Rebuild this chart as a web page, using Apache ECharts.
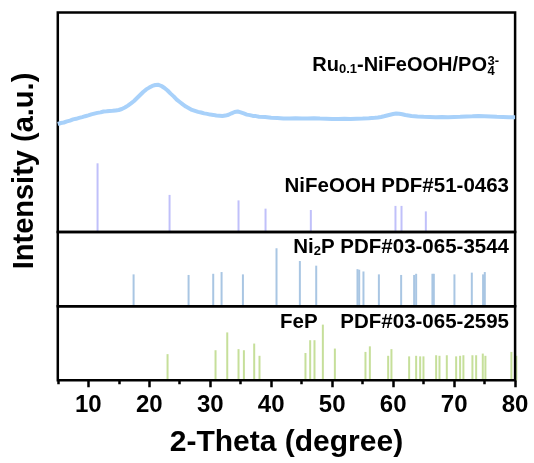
<!DOCTYPE html>
<html><head><meta charset="utf-8">
<script src="https://cdn.jsdelivr.net/npm/echarts@6/dist/echarts.min.js"></script>
<style>html,body{margin:0;padding:0;background:#fff}#c{width:534px;height:463px}</style>
</head><body><div id="c"></div>
<script>
const FONT = '"Liberation Sans", Arial, sans-serif';

// Measured XRD pattern of Ru0.1-NiFeOOH/PO4(3-)
const curveTheta = [5,5.5,6,6.5,7,7.5,8,8.5,9,9.5,10,10.5,11,11.5,12,12.5,13,13.5,14,14.5,15,15.5,16,16.5,17,17.5,18,18.5,19,19.5,20,20.5,21,21.5,22,22.5,23,23.5,24,24.5,25,25.5,26,26.5,27,27.5,28,28.5,29,29.5,30,30.5,31,31.5,32,32.5,33,33.5,34,34.5,35,35.5,36,36.5,37,37.5,38,39,40,41,42,43,44,45,46,47,48,49,50,51,52,53,54,55,56,57,57.5,58,58.5,59,59.5,60,60.5,61,61.5,62,62.5,63,64,65,66,67,68,69,70,71,72,73,74,75,76,77,78,79,80];
const curveIntensity = [108,109,109.5,110.6,111.4,112.6,113.2,114.1,114.9,115.8,116.6,117.6,118.4,119.1,119.6,120.5,120.7,121.1,121.2,121.6,122,123,124.5,126.4,128.6,131,134,137,140,142.6,144.4,146.1,147,147.2,146,144,141.5,138.4,135.6,132.4,130,127.6,125.4,123.8,122.1,121.1,120.1,119.5,118.6,118.1,117.4,117.1,116.5,116.3,116,116.4,117.2,118.7,120,120.5,119.6,118.6,117.4,116.9,116.1,115.9,115.3,114.9,114.3,114.1,113.4,113.6,113.7,113.4,113.5,113.7,113.4,113.3,113,113.1,113.2,112.9,113.3,113.5,113.8,114.2,114.5,115,115.7,116.5,117.3,118,118.5,118.3,117.7,117,116.5,116,115.5,115.2,115,114.8,115,114.7,115,115.2,115.5,115.7,116,115.8,115.5,115.2,115,114.8,114.7];

// NiFeOOH PDF#51-0463 (relative intensity)
const nifePos = [11.52,23.33,34.64,39.07,46.5,60.38,61.37,65.36];
const nifeInt = [100,54,46,34,32,38,38,30];

// Ni2P PDF#03-065-3544
const ni2pPos = [17.43,26.45,30.49,31.86,35.36,40.87,44.7,47.38,54.15,54.43,55.13,57.66,61.31,63.44,63.77,66.44,66.67,70.05,72.9,74.75,75.03];
const ni2pInt = [55,54,56,59,55,100,78,70,64,63,60,55,54,54,56,56,56,55,58,55,59];

// FeP PDF#03-065-2595
const fepPos = [23.0,30.87,32.79,34.64,35.52,37.21,38.08,45.62,46.39,47.1,48.47,50.44,55.46,56.18,59.18,59.72,62.62,63.77,64.43,64.97,67.05,67.6,68.8,70.33,70.98,71.52,73.0,73.61,74.7,75.13,79.39,80.2];
const fepInt = [47,54,86,56,54,66,44,49,72,72,100,57,51,61,44,56,43,44,43,43,45,44,45,43,44,45,45,45,48,44,51,44];

const majorTicks = [10,20,30,40,50,60,70,80];
const minorTicks = [5,15,25,35,45,55,65,75];

const chart = echarts.init(document.getElementById('c'), null, {renderer:'canvas'});
const L = 57.8, R = 18.9;
const gridBase = {left:L, right:R, show:true, borderColor:'#000', borderWidth:2.5, backgroundColor:'transparent', z:3};
const hiddenX = i => ({type:'value', gridIndex:i, min:5, max:80, show:false});
const black = '#000';

chart.setOption({
  animation:false,
  grid:[
    Object.assign({top:12.5, height:219.5}, gridBase),
    Object.assign({top:232, height:74.3}, gridBase),
    Object.assign({top:306.3, height:74}, gridBase)
  ],
  xAxis:[
    hiddenX(0), hiddenX(1),
    {type:'value', gridIndex:2, min:5, max:80, position:'bottom',
     axisLine:{show:false}, splitLine:{show:false},
     axisTick:{show:true, customValues:majorTicks, length:7, lineStyle:{color:black, width:2.5}},
     axisLabel:{customValues:majorTicks, fontSize:24, fontWeight:'bold', color:black, fontFamily:FONT, margin:13, hideOverlap:false},
     name:'2-Theta (degree)', nameLocation:'middle', nameGap:47,
     nameTextStyle:{fontSize:30, fontWeight:'bold', color:black, fontFamily:FONT}},
    {type:'value', gridIndex:2, min:5, max:80, position:'bottom', offset:0,
     axisLine:{show:false}, splitLine:{show:false}, axisLabel:{show:false},
     axisTick:{show:true, customValues:minorTicks, length:4, lineStyle:{color:black, width:2.5}}}
  ],
  yAxis:[
    {type:'value', gridIndex:0, min:0, max:219.5, show:false},
    {type:'value', gridIndex:0, min:0, max:319.5, show:false},
    {type:'value', gridIndex:1, min:0, max:128, show:false},
    {type:'value', gridIndex:2, min:0, max:132.9, show:false}
  ],
  series:[
    {type:'line', xAxisIndex:0, yAxisIndex:0, showSymbol:false, silent:true,
     data:curveTheta.map((t,i)=>[t, curveIntensity[i]]),
     lineStyle:{color:'#a8d1fa', width:4}},
    {type:'bar', xAxisIndex:0, yAxisIndex:1, barWidth:2, silent:true,
     data:nifePos.map((p,i)=>[p, nifeInt[i]]), itemStyle:{color:'#c0c0fa'}},
    {type:'bar', xAxisIndex:1, yAxisIndex:2, barWidth:2, silent:true,
     data:ni2pPos.map((p,i)=>[p, ni2pInt[i]]), itemStyle:{color:'#a9c6e3'}},
    {type:'bar', xAxisIndex:2, yAxisIndex:3, barWidth:2, silent:true, clip:false,
     data:fepPos.map((p,i)=>[p, fepInt[i]]), itemStyle:{color:'#c6df9a'}}
  ],
  graphic:[
    {type:'text', x:24.5, y:171, rotation:Math.PI/2,
     style:{text:'Intensity (a.u.)', fontSize:29, fontWeight:'bold', fontFamily:FONT, fill:black, align:'center', verticalAlign:'middle'}},
    {type:'text', x:487, y:65,
     style:{text:'{m|Ru}{s|0.1}{m|-NiFeOOH/PO}', align:'right', verticalAlign:'middle', fill:black,
       rich:{m:{fontSize:20, fontWeight:'bold', fontFamily:FONT, lineHeight:22, fill:black},
             s:{fontSize:13, fontWeight:'bold', fontFamily:FONT, lineHeight:9.4, verticalAlign:'bottom', fill:black}}}},
    {type:'text', x:487.5, y:61.7,
     style:{text:'3-', fontSize:13, fontWeight:'bold', fontFamily:FONT, fill:black, align:'left', verticalAlign:'middle'}},
    {type:'text', x:487.5, y:71.5,
     style:{text:'4', fontSize:13, fontWeight:'bold', fontFamily:FONT, fill:black, align:'left', verticalAlign:'middle'}},
    {type:'text', x:509, y:186.5,
     style:{text:'NiFeOOH PDF#51-0463', fontSize:20.5, fontWeight:'bold', fontFamily:FONT, fill:black, align:'right', verticalAlign:'middle'}},
    {type:'text', x:509, y:247,
     style:{text:'{m|Ni}{s|2}{m|P PDF#03-065-3544}', align:'right', verticalAlign:'middle', fill:black,
       rich:{m:{fontSize:20.5, fontWeight:'bold', fontFamily:FONT, lineHeight:22, fill:black},
             s:{fontSize:13, fontWeight:'bold', fontFamily:FONT, lineHeight:10, verticalAlign:'bottom', fill:black}}}},
    {type:'text', x:509, y:322.5,
     style:{text:'FeP    PDF#03-065-2595', fontSize:20.5, fontWeight:'bold', fontFamily:FONT, fill:black, align:'right', verticalAlign:'middle'}}
  ]
});
</script>
</body></html>
